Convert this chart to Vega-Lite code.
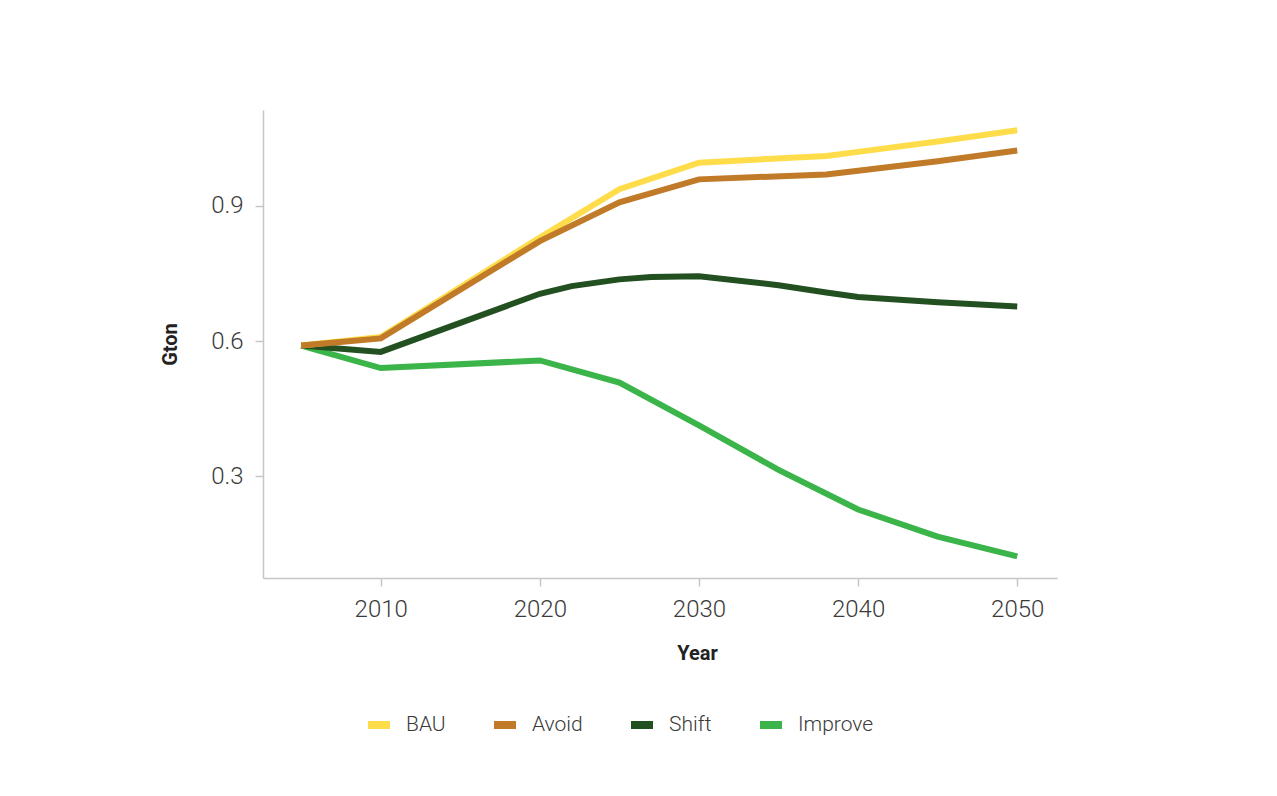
{
  "$schema": "https://vega.github.io/schema/vega-lite/v6.json",
  "width": 794,
  "height": 468,
  "autosize": {"type": "none"},
  "padding": {"left": 263, "top": 110, "right": 220, "bottom": 218},
  "background": "white",
  "config": {
    "font": "Roboto",
    "view": {"stroke": null},
    "axis": {
      "grid": false,
      "domainColor": "#c6c6c6",
      "domainWidth": 1.5,
      "tickColor": "#c6c6c6",
      "tickWidth": 1.5,
      "tickSize": 8,
      "labelFont": "Roboto",
      "labelFontWeight": 300,
      "labelFontSize": 24,
      "labelColor": "#3a3a3a",
      "titleFont": "Roboto",
      "titleFontWeight": "bold",
      "titleFontSize": 20,
      "titleColor": "#222222"
    },
    "legend": {
      "labelFont": "Roboto",
      "labelFontWeight": 300,
      "labelFontSize": 21,
      "labelColor": "#3a3a3a"
    }
  },
  "data": {
    "values": [
      {"series": "Improve", "year": 2005, "value": 0.59},
      {"series": "Improve", "year": 2010, "value": 0.54},
      {"series": "Improve", "year": 2020, "value": 0.557},
      {"series": "Improve", "year": 2025, "value": 0.508},
      {"series": "Improve", "year": 2030, "value": 0.413},
      {"series": "Improve", "year": 2035, "value": 0.314},
      {"series": "Improve", "year": 2040, "value": 0.226},
      {"series": "Improve", "year": 2045, "value": 0.166},
      {"series": "Improve", "year": 2050, "value": 0.122},
      {"series": "Shift", "year": 2005, "value": 0.59},
      {"series": "Shift", "year": 2010, "value": 0.576},
      {"series": "Shift", "year": 2020, "value": 0.705},
      {"series": "Shift", "year": 2022, "value": 0.722},
      {"series": "Shift", "year": 2025, "value": 0.737},
      {"series": "Shift", "year": 2027, "value": 0.742},
      {"series": "Shift", "year": 2030, "value": 0.744},
      {"series": "Shift", "year": 2035, "value": 0.724},
      {"series": "Shift", "year": 2038, "value": 0.708},
      {"series": "Shift", "year": 2040, "value": 0.698},
      {"series": "Shift", "year": 2045, "value": 0.686},
      {"series": "Shift", "year": 2050, "value": 0.677},
      {"series": "BAU", "year": 2005, "value": 0.59},
      {"series": "BAU", "year": 2010, "value": 0.609},
      {"series": "BAU", "year": 2020, "value": 0.83},
      {"series": "BAU", "year": 2025, "value": 0.937},
      {"series": "BAU", "year": 2030, "value": 0.996},
      {"series": "BAU", "year": 2038, "value": 1.011},
      {"series": "BAU", "year": 2040, "value": 1.02},
      {"series": "BAU", "year": 2045, "value": 1.043},
      {"series": "BAU", "year": 2050, "value": 1.068},
      {"series": "Avoid", "year": 2005, "value": 0.59},
      {"series": "Avoid", "year": 2010, "value": 0.606},
      {"series": "Avoid", "year": 2020, "value": 0.822},
      {"series": "Avoid", "year": 2025, "value": 0.908},
      {"series": "Avoid", "year": 2030, "value": 0.959},
      {"series": "Avoid", "year": 2038, "value": 0.97},
      {"series": "Avoid", "year": 2040, "value": 0.978},
      {"series": "Avoid", "year": 2045, "value": 0.999},
      {"series": "Avoid", "year": 2050, "value": 1.023}
    ]
  },
  "mark": {"type": "line", "strokeWidth": 6, "strokeCap": "butt", "strokeJoin": "miter"},
  "encoding": {
    "x": {
      "field": "year",
      "type": "quantitative",
      "title": "Year",
      "scale": {"domain": [2002.6, 2052.5], "nice": false, "zero": false},
      "axis": {"values": [2010, 2020, 2030, 2040, 2050], "format": "d", "labelPadding": 11, "titlePadding": 22, "titleX": 434}
    },
    "y": {
      "field": "value",
      "type": "quantitative",
      "title": "Gton",
      "scale": {"domain": [0.074, 1.113], "nice": false, "zero": false},
      "axis": {"values": [0.3, 0.6, 0.9], "format": ".1f", "labelPadding": 12, "titlePadding": 30}
    },
    "color": {
      "field": "series",
      "type": "nominal",
      "scale": {
        "domain": ["BAU", "Avoid", "Shift", "Improve"],
        "range": ["#FFDD4A", "#C07A28", "#235021", "#3BB54A"]
      },
      "legend": {
        "title": null,
        "orient": "none",
        "direction": "horizontal",
        "legendX": 101,
        "legendY": 600,
        "padding": 0,
        "symbolType": "stroke",
        "symbolSize": 484,
        "symbolStrokeWidth": 8,
        "labelOffset": 12,
        "columnPadding": 32
      }
    }
  }
}
